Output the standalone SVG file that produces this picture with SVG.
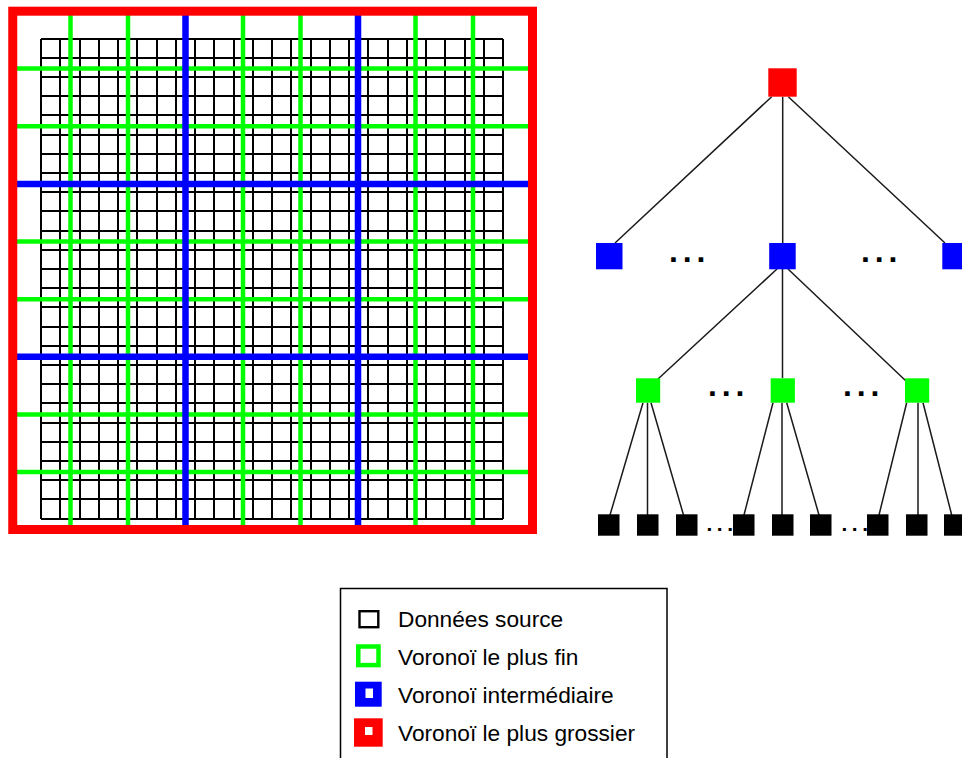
<svg xmlns="http://www.w3.org/2000/svg" width="962" height="758" viewBox="0 0 962 758">
<style>
.fine{stroke:#000;stroke-width:2;fill:none}
.g{stroke:#00ff00;stroke-width:4.5;fill:none}
.b{stroke:#0000ff;stroke-width:6.5;fill:none}
.conn{stroke:#1a1a1a;stroke-width:1.5;fill:none}
.dots{font-family:"Liberation Sans",Arial,sans-serif;font-weight:bold;font-size:32px;letter-spacing:4.8px;fill:#000}
.dots2{font-family:"Liberation Sans",Arial,sans-serif;font-weight:bold;font-size:21px;letter-spacing:4.5px;fill:#000}
.lab{font-family:"Liberation Sans",Arial,sans-serif;font-size:22.7px;fill:#000}
</style>
<rect width="962" height="758" fill="#fff"/>
<g id="grid">
<path class="fine" d="M41 39V519M60 39V519M80 39V519M99 39V519M118 39V519M137 39V519M157 39V519M176 39V519M195 39V519M214 39V519M234 39V519M253 39V519M272 39V519M291 39V519M311 39V519M330 39V519M349 39V519M368 39V519M388 39V519M407 39V519M426 39V519M445 39V519M465 39V519M484 39V519M503 39V519
M41 39H503M41 58H503M41 77H503M41 96H503M41 115H503M41 135H503M41 154H503M41 173H503M41 192H503M41 211H503M41 231H503M41 250H503M41 269H503M41 288H503M41 307H503M41 327H503M41 346H503M41 365H503M41 384H503M41 403H503M41 423H503M41 442H503M41 461H503M41 480H503M41 499H503M41 519H503"/>
<path class="g" d="M70.5 14V528M128 14V528M243 14V528M300.5 14V528M415.5 14V528M473 14V528M15 68.5H530M15 126.2H530M15 241.6H530M15 299.2H530M15 414.4H530M15 472H530"/>
<path class="b" d="M185.5 14V528M358 14V528M15 184H530M15 356.8H530"/>
<rect x="12.75" y="11.2" width="519.75" height="518.3" fill="none" stroke="#ff0000" stroke-width="9"/>
</g>
<g id="connectors">
<path class="conn" d="M771.7 96.7L615 243M782.7 96.7V243M788.3 96.7L945 243"/>
<path class="conn" d="M777 269L658 379M782.5 269V378M788 269L906 381"/>
<path class="conn" d="M643 402.7L610 515M647.5 402.7V515M651 402.7L683.5 515"/>
<path class="conn" d="M773 402.7L744 515M782 402.7V515M786.7 402.7L819 515"/>
<path class="conn" d="M906.7 402.7L879 515M918 402.7V515M923 402.7L951.7 515"/>
</g>
<g id="root"><rect x="768.3" y="68.3" width="28.4" height="28.4" fill="#ff0000"/></g>
<g id="mid-left"><rect x="596" y="243" width="26.5" height="26.3" fill="#0000ff"/></g>
<g id="mid-center"><rect x="769.2" y="243" width="26.5" height="26.3" fill="#0000ff"/></g>
<g id="mid-right"><rect x="942.3" y="243" width="26.5" height="26.3" fill="#0000ff"/></g>
<g id="fine-left"><rect x="636" y="378.3" width="24.2" height="24.4" fill="#00ff00"/></g>
<g id="fine-center"><rect x="770.7" y="378.3" width="24.2" height="24.4" fill="#00ff00"/></g>
<g id="fine-right"><rect x="905" y="378.3" width="24.2" height="24.4" fill="#00ff00"/></g>
<g id="leaf-1"><rect x="598" y="514.3" width="21.5" height="21.4" fill="#000"/></g>
<g id="leaf-2"><rect x="637" y="514.3" width="21.5" height="21.4" fill="#000"/></g>
<g id="leaf-3"><rect x="676" y="514.3" width="21.5" height="21.4" fill="#000"/></g>
<g id="leaf-4"><rect x="733" y="514.3" width="21.5" height="21.4" fill="#000"/></g>
<g id="leaf-5"><rect x="772" y="514.3" width="21.5" height="21.4" fill="#000"/></g>
<g id="leaf-6"><rect x="810" y="514.3" width="21.5" height="21.4" fill="#000"/></g>
<g id="leaf-7"><rect x="867" y="514.3" width="21.5" height="21.4" fill="#000"/></g>
<g id="leaf-8"><rect x="906" y="514.3" width="21.5" height="21.4" fill="#000"/></g>
<g id="leaf-9"><rect x="944" y="514.3" width="21.5" height="21.4" fill="#000"/></g>
<g id="ellipses">
<text class="dots" x="669" y="261.5">...</text>
<text class="dots" x="861" y="261.5">...</text>
<text class="dots" x="708" y="396">...</text>
<text class="dots" x="843" y="396">...</text>
<text class="dots2" x="706.5" y="530.5">...</text>
<text class="dots2" x="841.5" y="530.5">...</text>
</g>
<g id="legend">
<rect x="340.5" y="588.5" width="326.5" height="180" fill="#fff" stroke="#000" stroke-width="1.5"/>
<rect x="359.5" y="611.2" width="18.8" height="16" fill="#fff" stroke="#000" stroke-width="2.4"/>
<rect x="358.3" y="646.5" width="20.2" height="18.6" fill="#fff" stroke="#00ff00" stroke-width="4.5"/>
<rect x="355" y="681.7" width="26.7" height="25" fill="#0000ff"/>
<rect x="365.5" y="688.5" width="7.5" height="9.5" fill="#fff"/>
<rect x="354" y="718.3" width="28.7" height="28.4" fill="#ff0000"/>
<rect x="365" y="727" width="7.5" height="8" fill="#fff"/>
<text class="lab" x="398" y="627">Données source</text>
<text class="lab" x="398" y="665">Voronoï le plus fin</text>
<text class="lab" x="398" y="702.5">Voronoï intermédiaire</text>
<text class="lab" x="398" y="740.5">Voronoï le plus grossier</text>
</g>
</svg>
